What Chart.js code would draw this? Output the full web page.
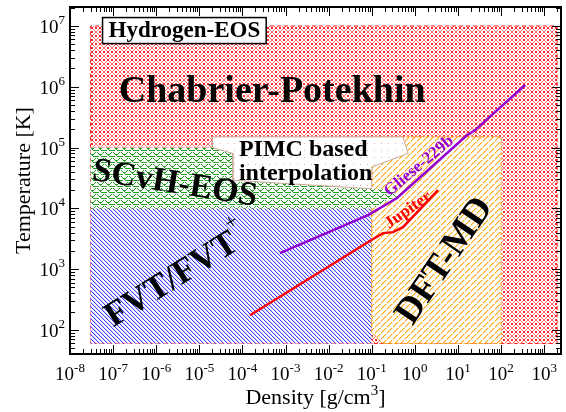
<!DOCTYPE html>
<html>
<head>
<meta charset="utf-8">
<script src="https://cdn.jsdelivr.net/npm/chart.js@4.4.1/dist/chart.umd.min.js"></script>
<style>
  html, body { margin: 0; padding: 0; background: #fff; }
  canvas { display: block; }
</style>
</head>
<body>
<canvas id="eos" width="566" height="412"></canvas>
<script>
// region outlines as [density g/cm3, temperature K]
const chabrierPotekhin = [[3e-8, 60], [3e-8, 1e7], [2000, 1e7], [2000, 60], [3e-8, 60]];
const fvtRegion = [[3e-8, 60], [3e-8, 1e4], [0.1, 1e4], [0.1, 60], [3e-8, 60]];
const dftRegion = [[0.1, 92], [0.1, 1.5e5], [100, 1.5e5], [100, 60], [0.18, 60], [0.1, 92]];
const scvhRegion = [[3e-8, 1e4], [3e-8, 1e5], [0.1, 1e5], [0.1, 2.1e4], [0.3, 2e4], [0.4, 1.6e4], [0.1, 1e4], [3e-8, 1e4]];
const pimcRegion = [[2e-5, 1.5e5], [2e-5, 1e5], [6e-5, 8e4], [6e-5, 2.9e4], [0.1, 2.1e4], [0.1, 4.8e4], [0.7, 8e4], [0.53, 1.5e5], [2e-5, 1.5e5]];

// planet isentropes
const glieseDensity = [7.4e-4, 0.082, 0.386, 15.4, 25, 360];
const glieseTemp = [1840, 7740, 1.48e4, 1.55e5, 1.94e5, 1.07e6];
const jupiterDensity = [1.5e-4, 0.105, 0.183, 0.312, 0.53, 3.45];
const jupiterTemp = [175, 3110, 3920, 4070, 4920, 2.0e4];

// axis decades
const xDecades = [-8, -7, -6, -5, -4, -3, -2, -1, 0, 1, 2, 3];
const yDecades = [2, 3, 4, 5, 6, 7];

const SERIF = '"Liberation Serif", "Times New Roman", serif';

// pixel tiles for the hatch patterns, cells are [x, y, colour]
function tile(w, h, cells) {
    const c = document.createElement('canvas');
    c.width = w; c.height = h;
    const g = c.getContext('2d');
    g.fillStyle = '#fff';
    g.fillRect(0, 0, w, h);
    cells.forEach(([px, py, col]) => {
        g.fillStyle = col;
        g.fillRect(px, py, 1, 1);
    });
    return g.createPattern(c, 'repeat');
}

const redCells = [];
for (let i = 0; i < 8; i++) redCells.push([i, i, '#ff6a6a'], [i, 7 - i, '#ff6a6a']);
[[3, 3], [4, 4], [3, 4], [4, 3], [3, 0], [4, 0], [3, 7], [4, 7], [0, 3], [0, 4], [7, 3], [7, 4]]
    .forEach(([a, b]) => redCells.push([a, b, '#ff2a2a']));
const redFill = tile(8, 8, redCells);

const greenFill = tile(8, 6, [[0, 0], [1, 0], [2, 0], [5, 0], [6, 0], [7, 0],
    [1, 2], [7, 2], [2, 3], [6, 3], [3, 4], [5, 4], [4, 4], [4, 5]].map(p => p.concat('#1f9f1f')));

const blueCells = [];
for (let i = 0; i < 4; i++) blueCells.push([i, i, '#3c3cff'], [(i + 1) % 4, i, '#d2d2ff']);
const blueFill = tile(4, 4, blueCells);

const orangeCells = [];
for (let i = 0; i < 6; i++) {
    if (i !== 2) orangeCells.push([i, 5 - i, '#ffa60f']);
    orangeCells.push([i, (6 - i) % 6, '#ffdca0']);
}
const orangeFill = tile(6, 6, orangeCells);

const pimcFill = tile(7, 7, [[3, 3, '#e6b0b0']]);

const pts = arr => arr.map(([x, y]) => ({x, y}));
const zip = (xs, ys) => xs.map((x, i) => ({x, y: ys[i]}));

function region(points, fill, border, dash, order) {
    return {
        data: pts(points), showLine: true, fill: 'shape', backgroundColor: fill,
        borderColor: border || 'rgba(0,0,0,0)', borderWidth: 1, borderDash: dash,
        pointRadius: 0, tension: 0, order
    };
}

// text labels drawn over the regions
const labels = [
    {t: 'Chabrier-Potekhin', x: 4.9e-4, y: 5.6e5, size: 38, color: '#000', angle: 0, base: 'alphabetic'},
    {t: 'SCvH-EOS', x: 2.7e-6, y: 2.5e4, size: 34, color: '#000', angle: 9},
    {t: 'DFT-MD', x: 5.0, y: 1360, size: 37, color: '#000', angle: -56},
    {t: 'Gliese-229b', x: 1.25, y: 4.96e4, size: 17, color: '#9400d3', angle: -40},
    {t: 'Jupiter', x: 0.7, y: 9350, size: 17, color: '#ff0000', angle: -35}
];

const drawPlugin = {
    id: 'decor',
    afterDatasetsDraw(chart) {
        const {ctx, scales: {x, y}} = chart;
        ctx.save();
        ctx.textAlign = 'center';
        labels.forEach(l => {
            ctx.save();
            ctx.translate(x.getPixelForValue(l.x), y.getPixelForValue(l.y));
            ctx.rotate(l.angle * Math.PI / 180);
            ctx.font = 'bold ' + l.size + 'px ' + SERIF;
            ctx.fillStyle = l.color;
            ctx.textBaseline = l.base || 'middle';
            ctx.fillText(l.t, 0, 0);
            ctx.restore();
        });

        // FVT/FVT+ with the raised plus
        ctx.save();
        ctx.translate(x.getPixelForValue(2.33e-6), y.getPixelForValue(660));
        ctx.rotate(-32 * Math.PI / 180);
        ctx.font = 'bold 35px ' + SERIF;
        ctx.fillStyle = '#000';
        ctx.textBaseline = 'middle';
        const fw = ctx.measureText('FVT/FVT').width;
        ctx.fillText('FVT/FVT', 0, 0);
        ctx.font = '22px ' + SERIF;
        ctx.textAlign = 'left';
        ctx.fillText('+', fw / 2, -17);
        ctx.restore();

        // PIMC text
        ctx.font = 'bold 24px ' + SERIF;
        ctx.fillStyle = '#000';
        ctx.textAlign = 'left';
        ctx.textBaseline = 'alphabetic';
        const px = x.getPixelForValue(8.3e-5);
        ctx.fillText('PIMC based', px, y.getPixelForValue(7.25e4));
        ctx.fillText('interpolation', px, y.getPixelForValue(2.92e4));

        // boxed title
        ctx.font = 'bold 23px ' + SERIF;
        const bw = ctx.measureText('Hydrogen-EOS').width;
        const cx = x.getPixelForValue(4.5e-6), cy = y.getPixelForValue(8.4e6);
        ctx.fillStyle = '#fff';
        ctx.fillRect(cx - bw / 2 - 6, cy - 13, bw + 12, 26);
        ctx.strokeStyle = '#000';
        ctx.lineWidth = 1.5;
        ctx.strokeRect(cx - bw / 2 - 6, cy - 13, bw + 12, 26);
        ctx.fillStyle = '#000';
        ctx.textAlign = 'center';
        ctx.textBaseline = 'middle';
        ctx.fillText('Hydrogen-EOS', cx, cy + 1);
        ctx.restore();
    },
    afterDraw(chart) {
        const {ctx, chartArea: a, scales: {x, y}} = chart;
        ctx.save();
        ctx.strokeStyle = '#000';
        ctx.lineWidth = 1;
        ctx.setLineDash([]);
        ctx.beginPath();
        xDecades.forEach(k => {
            for (let m = 1; m < 10; m++) {
                const v = m * Math.pow(10, k);
                if (v < x.min || v > x.max) continue;
                const p = Math.round(x.getPixelForValue(v)) + 0.5;
                const len = m === 1 ? 9 : 5;
                ctx.moveTo(p, a.bottom); ctx.lineTo(p, a.bottom - len);
                ctx.moveTo(p, a.top); ctx.lineTo(p, a.top + len);
            }
        });
        [1].concat(yDecades).forEach(k => {
            for (let m = 1; m < 10; m++) {
                const v = m * Math.pow(10, k);
                if (v < y.min || v > y.max) continue;
                const p = Math.round(y.getPixelForValue(v)) + 0.5;
                const len = m === 1 ? 9 : 5;
                ctx.moveTo(a.left, p); ctx.lineTo(a.left + len, p);
                ctx.moveTo(a.right, p); ctx.lineTo(a.right - len, p);
            }
        });
        ctx.stroke();
        ctx.lineWidth = 2;
        ctx.strokeRect(a.left, a.top, a.right - a.left, a.bottom - a.top);

        // tick labels 10^k
        ctx.fillStyle = '#000';
        ctx.textBaseline = 'alphabetic';
        ctx.textAlign = 'left';
        const base = '19px ' + SERIF, sup = '13px ' + SERIF;
        const widths = k => {
            ctx.font = base; const w1 = ctx.measureText('10').width;
            ctx.font = sup; const w2 = ctx.measureText(String(k)).width;
            return [w1, w2];
        };
        xDecades.forEach(k => {
            const [w1, w2] = widths(k);
            const p = x.getPixelForValue(Math.pow(10, k));
            const s = p - (w1 + w2) / 2;
            ctx.font = base; ctx.fillText('10', s, a.bottom + 26);
            ctx.font = sup; ctx.fillText(String(k), s + w1, a.bottom + 18);
        });
        yDecades.forEach(k => {
            const [w1, w2] = widths(k);
            const p = y.getPixelForValue(Math.pow(10, k));
            const s = a.left - 5 - (w1 + w2);
            ctx.font = base; ctx.fillText('10', s, p + 7);
            ctx.font = sup; ctx.fillText(String(k), s + w1, p - 2);
        });

        // axis titles
        ctx.font = '22px ' + SERIF;
        const t1 = 'Density [g/cm', t2 = ']';
        const w1 = ctx.measureText(t1).width, w3 = ctx.measureText(t2).width;
        ctx.font = '15px ' + SERIF;
        const w2 = ctx.measureText('3').width;
        let s = (a.left + a.right) / 2 - (w1 + w2 + w3) / 2;
        ctx.font = '22px ' + SERIF;
        ctx.fillText(t1, s, 404);
        ctx.fillText(t2, s + w1 + w2, 404);
        ctx.font = '15px ' + SERIF;
        ctx.fillText('3', s + w1, 395);

        ctx.save();
        ctx.translate(30, (a.top + a.bottom) / 2);
        ctx.rotate(-Math.PI / 2);
        ctx.font = '22px ' + SERIF;
        ctx.textAlign = 'center';
        ctx.fillText('Temperature [K]', 0, 0);
        ctx.restore();
        ctx.restore();
    }
};

new Chart(document.getElementById('eos'), {
    type: 'scatter',
    data: {
        datasets: [
            region(chabrierPotekhin, redFill, '#ff2020', [4, 3], 10),
            region(fvtRegion, blueFill, null, [], 9),
            region(dftRegion, orangeFill, '#ff9a00', [3, 2], 8),
            region(scvhRegion, greenFill, null, [], 7),
            region(pimcRegion, pimcFill, '#c9a898', [], 6),
            {
                data: zip(glieseDensity, glieseTemp), showLine: true, fill: false,
                borderColor: '#9400d3', borderWidth: 2.5, pointRadius: 0, tension: 0, order: 2
            },
            {
                data: zip(jupiterDensity, jupiterTemp), showLine: true, fill: false,
                borderColor: '#ff0000', borderWidth: 2.5, pointRadius: 0, tension: 0, order: 1
            }
        ]
    },
    options: {
        responsive: false,
        animation: false,
        layout: { padding: { left: 70, right: 5, top: 7, bottom: 58 } },
        plugins: { legend: { display: false }, tooltip: { enabled: false } },
        scales: {
            x: { type: 'logarithmic', min: 1e-8, max: 2455, display: false },
            y: { type: 'logarithmic', min: 40.3, max: 2.05e7, display: false }
        }
    },
    plugins: [drawPlugin]
});
</script>
</body>
</html>
